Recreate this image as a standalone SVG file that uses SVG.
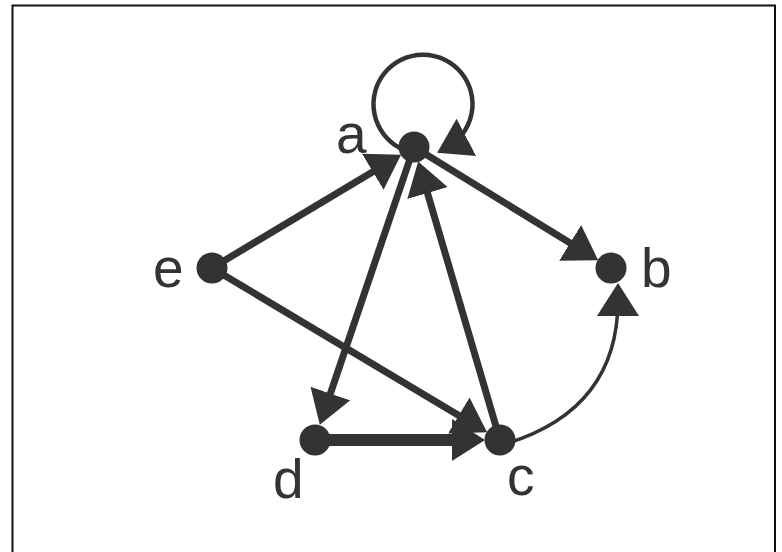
<svg xmlns="http://www.w3.org/2000/svg" width="782" height="552" viewBox="0 0 782 552">
<style>
.node{fill:#333}
.edge{fill:none;stroke:#333;stroke-width:7}
.lbl{font-family:"Liberation Sans",Arial,sans-serif;font-size:55px;fill:#333}
</style>
<defs>
<marker id="arr" markerUnits="userSpaceOnUse" markerWidth="33" markerHeight="42" viewBox="0 0 33 42" refX="23" refY="21" orient="auto">
<path d="M0,0 L33,21 L0,42 z" fill="#333"/>
</marker>
</defs>
<rect x="12.5" y="5.5" width="762.5" height="600" fill="#fff" stroke="#111" stroke-width="2"/>
<g id="edges">
<path class="edge" d="M212,268 L392.5,159.9" marker-end="url(#arr)"/>
<path class="edge" d="M414,147 L589.7,255" marker-end="url(#arr)"/>
<path class="edge" d="M414,147 L323,415.3" marker-end="url(#arr)"/>
<path class="edge" d="M500,440 L421,171" marker-end="url(#arr)"/>
<path class="edge" d="M212,268 L478.5,427.2" marker-end="url(#arr)"/>
<path class="edge" style="stroke-width:12" d="M315,440 L475,440" marker-end="url(#arr)"/>
<path class="edge" style="stroke-width:3.5" d="M505,444 Q618,410 618,300 L618,293" marker-end="url(#arr)"/>
<path class="edge" style="stroke-width:4.5" d="M400,148 A49.5,49.5 0 1 1 446,148" marker-end="url(#arr)"/>
</g>
<g id="node-a"><circle class="node" cx="414" cy="147" r="15.5"/><text class="lbl" x="336" y="153">a</text></g>
<g id="node-b"><circle class="node" cx="611" cy="268" r="15.5"/><text class="lbl" x="641" y="287">b</text></g>
<g id="node-c"><circle class="node" cx="500" cy="440" r="15.5"/><text class="lbl" x="507" y="495">c</text></g>
<g id="node-d"><circle class="node" cx="315" cy="440" r="15.5"/><text class="lbl" x="273" y="498">d</text></g>
<g id="node-e"><circle class="node" cx="212" cy="268" r="15.5"/><text class="lbl" x="153" y="287">e</text></g>
</svg>
